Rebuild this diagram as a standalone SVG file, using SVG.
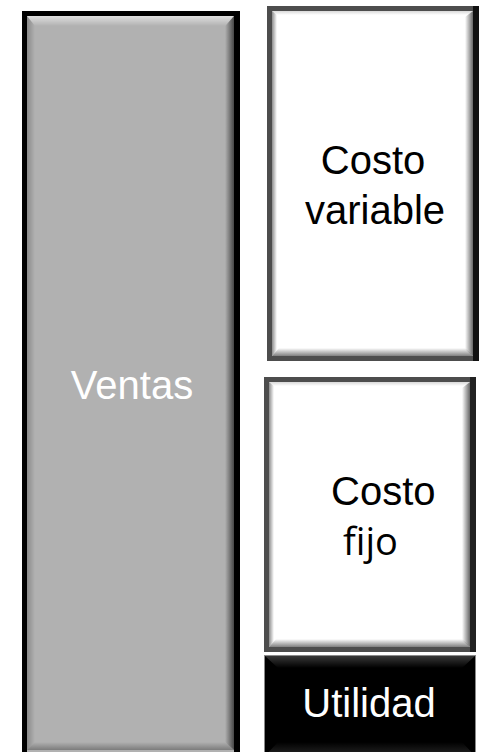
<svg xmlns="http://www.w3.org/2000/svg" width="479" height="752" viewBox="0 0 479 752">
  <defs>
    <!-- bevel shading, applied over any face colour -->
    <linearGradient id="shadeR" x1="0" y1="0" x2="1" y2="0">
      <stop offset="0" stop-color="#000" stop-opacity="0"/>
      <stop offset="1" stop-color="#000" stop-opacity="0.6"/>
    </linearGradient>
    <linearGradient id="shadeL" x1="1" y1="0" x2="0" y2="0">
      <stop offset="0" stop-color="#000" stop-opacity="0"/>
      <stop offset="1" stop-color="#000" stop-opacity="0.45"/>
    </linearGradient>
    <linearGradient id="shadeB" x1="0" y1="0" x2="0" y2="1">
      <stop offset="0" stop-color="#000" stop-opacity="0"/>
      <stop offset="1" stop-color="#000" stop-opacity="0.5"/>
    </linearGradient>
    <linearGradient id="shadeT" x1="0" y1="1" x2="0" y2="0">
      <stop offset="0" stop-color="#000" stop-opacity="0"/>
      <stop offset="1" stop-color="#000" stop-opacity="0.3"/>
    </linearGradient>
    <linearGradient id="hiT" x1="0" y1="1" x2="0" y2="0">
      <stop offset="0" stop-color="#fff" stop-opacity="0"/>
      <stop offset="1" stop-color="#fff" stop-opacity="0.6"/>
    </linearGradient>
    <linearGradient id="hiTdark" x1="0" y1="1" x2="0" y2="0">
      <stop offset="0" stop-color="#fff" stop-opacity="0"/>
      <stop offset="1" stop-color="#fff" stop-opacity="0.22"/>
    </linearGradient>
    <linearGradient id="hiBdark" x1="0" y1="0" x2="0" y2="1">
      <stop offset="0" stop-color="#fff" stop-opacity="0"/>
      <stop offset="1" stop-color="#fff" stop-opacity="0.15"/>
    </linearGradient>
  </defs>
  <style>
    .lbl { font-family: "Liberation Sans", Arial, sans-serif; font-size: 40px; }
    .alt { font-family: "Open Sans", "Noto Sans", sans-serif; font-size: 38px; }
    .light { fill: #ffffff; }
    .dark { fill: #000000; }
  </style>

  <rect width="479" height="752" fill="#ffffff"/>

  <!-- Ventas: tall grey block with black frame -->
  <g id="ventas">
    <rect x="22" y="11" width="218" height="745" fill="#000"/>
    <rect x="27" y="16" width="207" height="740" fill="#b1b1b1"/>
    <polygon points="27,16 234,16 226,26 35,26" fill="url(#hiT)"/>
    <polygon points="27,16 35,26 35,742 27,750" fill="url(#shadeL)" opacity="0.5"/>
    <polygon points="234,16 234,750 225,742 225,26" fill="url(#shadeR)"/>
    <polygon points="27,750 35,742 225,742 234,750" fill="url(#shadeB)" opacity="0.6"/>
    <text class="lbl light" x="132" y="399" font-size="44" text-anchor="middle">Ventas</text>
  </g>

  <!-- Costo variable -->
  <g id="costo-variable">
    <rect x="267" y="6" width="212" height="355" fill="#4d4d4d"/>
    <rect x="473" y="6" width="6" height="355" fill="#111"/>
    <rect x="272" y="11" width="201" height="345" fill="#ffffff"/>
    <polygon points="272,11 473,11 468,15 277,15" fill="url(#shadeT)" opacity="0.5"/>
    <polygon points="272,11 277,15 277,350 272,356" fill="url(#shadeL)"/>
    <polygon points="473,11 473,356 465,349 465,17" fill="url(#shadeR)"/>
    <polygon points="272,356 279,348 465,348 473,356" fill="url(#shadeB)"/>
    <text class="lbl dark" x="373" y="174" text-anchor="middle">Costo</text>
    <text class="lbl dark" x="375" y="224" text-anchor="middle">variable</text>
  </g>

  <!-- Costo fijo -->
  <g id="costo-fijo">
    <rect x="264" y="377" width="212" height="275" fill="#4d4d4d"/>
    <rect x="470" y="377" width="6" height="275" fill="#222"/>
    <rect x="269" y="382" width="201" height="265" fill="#ffffff"/>
    <polygon points="269,382 470,382 465,386 274,386" fill="url(#shadeT)" opacity="0.5"/>
    <polygon points="269,382 274,386 274,641 269,647" fill="url(#shadeL)"/>
    <polygon points="470,382 470,647 462,640 462,388" fill="url(#shadeR)"/>
    <polygon points="269,647 276,639 462,639 470,647" fill="url(#shadeB)"/>
    <text class="lbl dark" x="331" y="505">Costo</text>
    <text class="alt dark" x="343" y="555">fijo</text>
  </g>

  <!-- Utilidad -->
  <g id="utilidad">
    <rect x="264" y="655" width="212" height="100" fill="#8a8a8a"/>
    <rect x="265" y="656" width="210" height="100" fill="#000"/>
    <polygon points="265,656 475,656 462,668 278,668" fill="url(#hiTdark)"/>
    <polygon points="265,756 278,742 462,742 475,756" fill="url(#hiBdark)"/>
    <text class="lbl light" x="369" y="717" text-anchor="middle">Utilidad</text>
  </g>
</svg>
